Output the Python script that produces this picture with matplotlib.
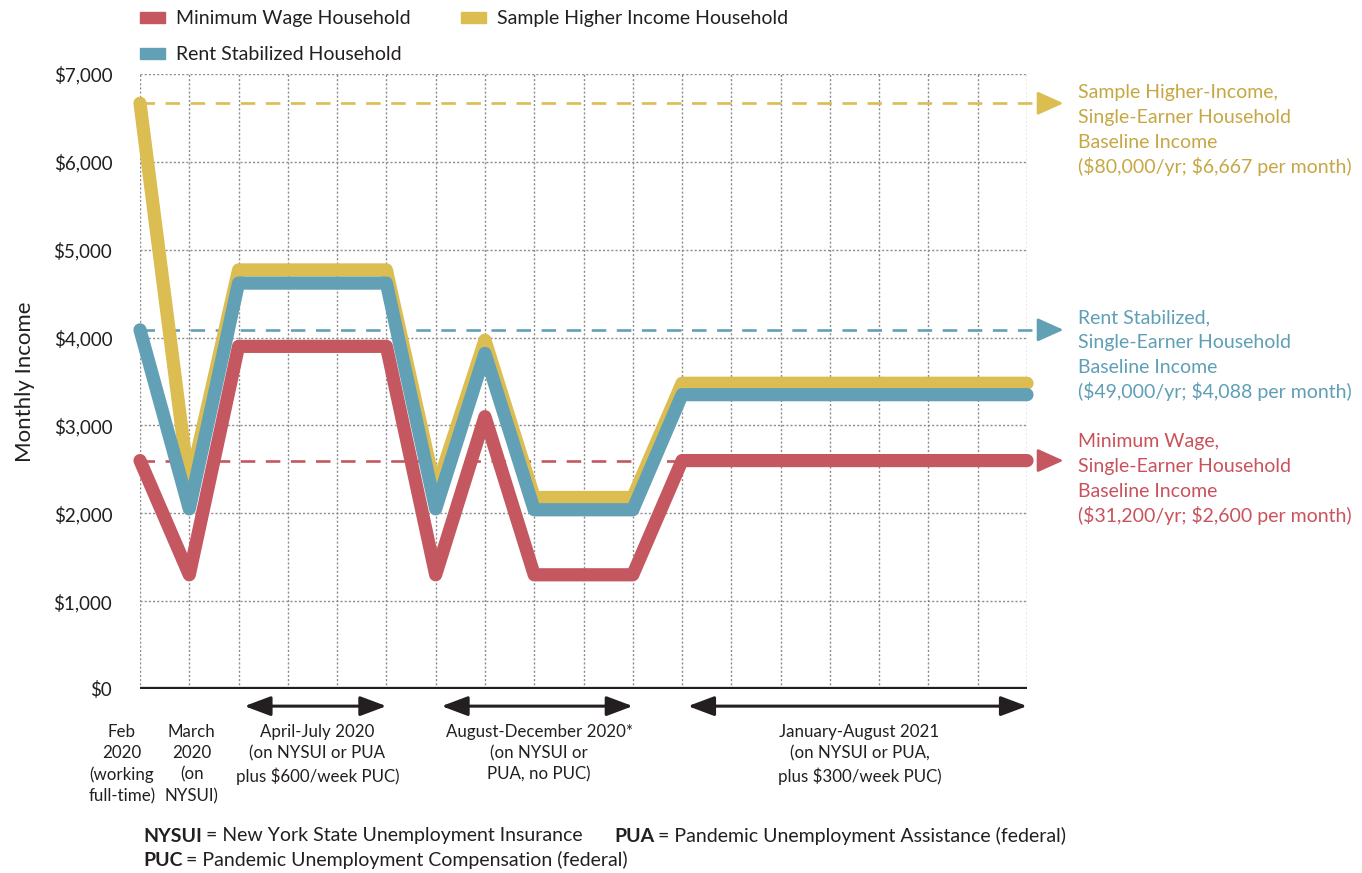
import matplotlib.pyplot as plt
from matplotlib.patches import Patch
from matplotlib.ticker import FuncFormatter

plt.rcParams['font.family'] = ['Lato', 'DejaVu Sans']

# Feb 2020 .. Aug 2021, one point per month
months = list(range(19))
min_wage = [2600, 1300, 3900, 3900, 3900, 3900, 1300, 3100, 1300, 1300, 1300,
            2600, 2600, 2600, 2600, 2600, 2600, 2600, 2600]
rent_stab = [4088, 2050, 4620, 4620, 4620, 4620, 2050, 3820, 2040, 2040, 2040,
             3350, 3350, 3350, 3350, 3350, 3350, 3350, 3350]
higher = [6667, 2300, 4770, 4770, 4770, 4770, 2250, 3970, 2180, 2180, 2180,
          3480, 3480, 3480, 3480, 3480, 3480, 3480, 3480]

baselines = [6667, 4088, 2600]
baseline_labels = [
    ["Sample Higher-Income,", "Single-Earner Household", "Baseline Income",
     "(\\$80,000/yr; \\$6,667 per month)"],
    ["Rent Stabilized,", "Single-Earner Household", "Baseline Income",
     "(\\$49,000/yr; \\$4,088 per month)"],
    ["Minimum Wage,", "Single-Earner Household", "Baseline Income",
     "(\\$31,200/yr; \\$2,600 per month)"],
]

month_labels = [(0, "Feb\n2020\n(working\nfull-time)"), (1, "March\n2020\n(on\nNYSUI)")]
periods = [
    (2, 5, "April-July 2020\n(on NYSUI or PUA\nplus \\$600/week PUC)"),
    (6, 10, "August-December 2020*\n(on NYSUI or\nPUA, no PUC)"),
    (11, 18, "January-August 2021\n(on NYSUI or PUA,\nplus \\$300/week PUC)"),
]

RED = '#C4575F'
BLUE = '#62A0B6'
YELLOW = '#DBBD51'
TEXT_COLORS = ['#C6A743', '#5E9FB6', '#C9525C']
LINE_COLORS = [YELLOW, BLUE, RED]
DARK = '#231F20'

fig = plt.figure(figsize=(13.62, 8.73), dpi=100)
ax = fig.add_axes([140 / 1362, 1 - 689 / 873, 887 / 1362, 615 / 873])

ax.set_xlim(0, 18)
ax.set_ylim(0, 7000)
ax.set_xticks(months)
ax.set_yticks(range(0, 7001, 1000))
ax.yaxis.set_major_formatter(FuncFormatter(lambda v, p: f"\\${int(v):,}"))
ax.tick_params(axis='x', labelbottom=False, length=0)
ax.tick_params(axis='y', length=0, pad=20, labelsize=13.5, labelcolor=DARK)
for s in ax.spines.values():
    s.set_visible(False)
ax.grid(True, color='#8c8c8c', lw=1, linestyle=(0, (1.5, 1.5)), zorder=0)
ax.set_axisbelow(True)
ax.axhline(0, color=DARK, lw=3.8, zorder=2)

ax.set_ylabel("Monthly Income", fontsize=16, color=DARK, labelpad=13)

# dashed baseline income levels with arrows
for val, col in zip(baselines, LINE_COLORS):
    ax.plot([0, 18.3], [val, val], color=col, lw=1.9, dashes=(5.5, 4),
            clip_on=False, zorder=3)
    ax.annotate('', xy=(18.74, val), xytext=(18.25, val),
                arrowprops=dict(arrowstyle='-|>,head_length=0.8,head_width=0.36',
                                color=col, lw=1.9, mutation_scale=20,
                                shrinkA=0, shrinkB=0),
                annotation_clip=False, zorder=3)

line_kw = dict(lw=9.5, solid_joinstyle='round', solid_capstyle='round',
               clip_on=False)
ax.plot(months, higher, color=YELLOW, zorder=4, **line_kw)
ax.plot(months, rent_stab, color=BLUE, zorder=5, **line_kw)
ax.plot(months, min_wage, color=RED, zorder=6, **line_kw)

# labels for the baselines, one line at a time for even spacing
first_baselines = [98, 323, 447]
for lines, col, y0 in zip(baseline_labels, TEXT_COLORS, first_baselines):
    for i, line in enumerate(lines):
        fig.text(1078 / 1362, 1 - (y0 + 25 * i) / 873, line, color=col,
                 fontsize=14, va='baseline', ha='left')

# x-axis category labels
for x, lab in month_labels:
    offset = -0.37 if x == 0 else 0.05
    ax.text(x + offset, -400, lab, ha='center', va='top', fontsize=12.2,
            color=DARK, linespacing=1.4, clip_on=False)
for x0, x1, lab in periods:
    ax.annotate('', xy=(x1, -195), xytext=(x0 + 0.12, -195),
                arrowprops=dict(arrowstyle='<|-|>,head_length=0.8,head_width=0.3',
                                color=DARK, lw=2.2, mutation_scale=20,
                                shrinkA=0, shrinkB=0),
                annotation_clip=False)
    ax.text((x0 + x1) / 2 + 0.1, -400, lab, ha='center', va='top',
            fontsize=12.2, color=DARK, linespacing=1.4, clip_on=False)

# legend
handles = [Patch(color=RED, label="Minimum Wage Household"),
           Patch(color=BLUE, label="Rent Stabilized Household"),
           Patch(color=YELLOW, label="Sample Higher Income Household")]
fig.legend(handles=handles, loc='upper left', bbox_to_anchor=(140 / 1362, 1 - 10 / 873),
           ncol=2, frameon=False, fontsize=14, handlelength=1.3, handleheight=0.5,
           handletextpad=0.55, columnspacing=2.6, labelspacing=1.0,
           borderpad=0, borderaxespad=0, labelcolor=DARK)

# footnote definitions, bold abbreviation followed by its meaning
renderer = fig.canvas.get_renderer()


def footnote(x_px, y_px, abbr, rest):
    t = fig.text(x_px / 1362, 1 - y_px / 873, abbr, fontsize=14, weight='bold',
                 color=DARK, va='center', ha='left')
    bb = t.get_window_extent(renderer)
    fig.text(bb.x1 / 1362 + 4 / 1362, 1 - y_px / 873, "= " + rest, fontsize=14,
             color=DARK, va='center', ha='left')


footnote(143, 836, "NYSUI", "New York State Unemployment Insurance")
footnote(614, 836, "PUA", "Pandemic Unemployment Assistance (federal)")
footnote(143, 860, "PUC", "Pandemic Unemployment Compensation (federal)")

fig.savefig('out.png', dpi=100)
